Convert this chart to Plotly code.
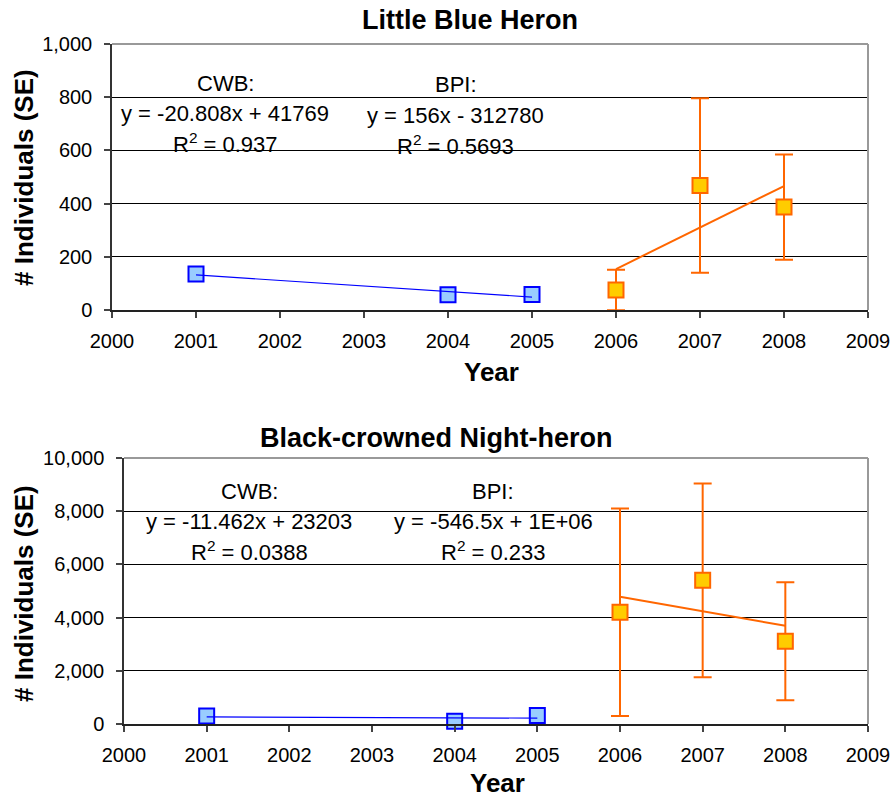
import numpy as np
import plotly.graph_objects as go

# ---------------- data ----------------
years_cwb = [2001, 2004, 2005]
years_bpi = [2006, 2007, 2008]

lbh_cwb = [135, 57, 58]
lbh_bpi = [75, 468, 387]
lbh_bpi_se = [76, 328, 198]

bcnh_cwb = [300, 100, 320]
bcnh_bpi = [4200, 5400, 3110]
bcnh_bpi_se = [3900, 3640, 2220]

x_ticks = list(range(2000, 2010))
lbh_yticks = [0, 200, 400, 600, 800, 1000]
bcnh_yticks = [0, 2000, 4000, 6000, 8000, 10000]

lbh_cwb_text = ["CWB:", "y = -20.808x + 41769", "R<sup>2</sup> = 0.937"]
lbh_bpi_text = ["BPI:", "y = 156x - 312780", "R<sup>2</sup> = 0.5693"]
bcnh_cwb_text = ["CWB:", "y = -11.462x + 23203", "R<sup>2</sup> = 0.0388"]
bcnh_bpi_text = ["BPI:", "y = -546.5x + 1E+06", "R<sup>2</sup> = 0.233"]

titles = ["Little Blue Heron", "Black-crowned Night-heron"]

# ---------------- style ----------------
W, H = 893, 800
FONT = "Liberation Sans, Arial, sans-serif"
BLUE_FILL, BLUE_EDGE = "#99CCFF", "#0000FF"
ORG_FILL, ORG_EDGE = "#FFCC00", "#FF6600"


def px(x):
    return x / W


def py(y):
    return 1 - y / H


def trend(xs, ys):
    k, b = np.polyfit(xs, ys, 1)
    xx = [min(xs), max(xs)]
    return xx, [k * v + b for v in xx]


fig = go.Figure()

panels = [
    dict(cwb=lbh_cwb, bpi=lbh_bpi, se=lbh_bpi_se, xa="x", ya="y"),
    dict(cwb=bcnh_cwb, bpi=bcnh_bpi, se=bcnh_bpi_se, xa="x2", ya="y2"),
]

for p in panels:
    fig.add_trace(go.Scatter(
        x=years_cwb, y=p["cwb"], mode="markers", xaxis=p["xa"], yaxis=p["ya"],
        marker=dict(symbol="square", size=15, color=BLUE_FILL,
                    line=dict(color=BLUE_EDGE, width=2)),
        cliponaxis=False, showlegend=False))
    fig.add_trace(go.Scatter(
        x=years_bpi, y=p["bpi"], mode="markers", xaxis=p["xa"], yaxis=p["ya"],
        marker=dict(symbol="square", size=15, color=ORG_FILL,
                    line=dict(color=ORG_EDGE, width=2)),
        error_y=dict(type="data", array=p["se"], color=ORG_EDGE,
                     thickness=2, width=9),
        showlegend=False))
    tx, ty = trend(years_cwb, p["cwb"])
    fig.add_trace(go.Scatter(x=tx, y=ty, mode="lines", xaxis=p["xa"], yaxis=p["ya"],
                             line=dict(color=BLUE_EDGE, width=1.2), showlegend=False))
    tx, ty = trend(years_bpi, p["bpi"])
    fig.add_trace(go.Scatter(x=tx, y=ty, mode="lines", xaxis=p["xa"], yaxis=p["ya"],
                             line=dict(color=ORG_EDGE, width=2), showlegend=False))

tickfont = dict(family=FONT, size=20, color="#000")

common_x = dict(range=[2000, 2009], tickvals=x_ticks, tickformat="d",
                showgrid=False, zeroline=False, showline=True, automargin=False,
                linecolor="#222", linewidth=2, ticks="outside", ticklen=6,
                tickcolor="#444", tickwidth=1.5, tickfont=tickfont,
                ticklabelstandoff=6)
common_y = dict(tickformat=",", showgrid=True, gridcolor="#000", gridwidth=1,
                zeroline=False, showline=True, linecolor="#333", linewidth=1.5,
                automargin=False,
                ticks="outside", ticklen=6, tickcolor="#444", tickwidth=1.5,
                tickfont=tickfont, ticklabelstandoff=8)

fig.update_layout(
    width=W, height=H, margin=dict(l=0, r=0, t=0, b=0, autoexpand=False),
    paper_bgcolor="white", plot_bgcolor="white",
    font=dict(family=FONT, color="#000"),
    xaxis=dict(domain=[px(112), px(868)], anchor="y", **common_x),
    yaxis=dict(domain=[py(310), py(44)], anchor="x", range=[0, 1000],
               tickvals=lbh_yticks, **common_y),
    xaxis2=dict(domain=[px(124), px(868)], anchor="y2", **common_x),
    yaxis2=dict(domain=[py(724), py(458)], anchor="x2", range=[0, 10000],
                tickvals=bcnh_yticks, **common_y),
)

# grey frame edges (top/right borders)
for xr, yr in [("x domain", "y domain"), ("x2 domain", "y2 domain")]:
    fig.add_shape(type="line", xref=xr, yref=yr, x0=0, x1=1, y0=1, y1=1,
                  line=dict(color="#999", width=2), layer="above")
    fig.add_shape(type="line", xref=xr, yref=yr, x0=1, x1=1, y0=0, y1=1,
                  line=dict(color="#999", width=2), layer="above")

ann = []


def add_text(text, x, y, size=22, bold=False, angle=0):
    t = f"<b>{text}</b>" if bold else text
    ann.append(dict(text=t, x=px(x), y=py(y), xref="paper", yref="paper",
                    xanchor="center", yanchor="middle", showarrow=False,
                    textangle=angle, font=dict(family=FONT, size=size, color="#000")))


# titles
add_text(titles[0], 470, 20, size=27, bold=True)
add_text(titles[1], 436, 438, size=27, bold=True)
# axis titles
add_text("Year", 491, 372, size=26, bold=True)
add_text("Year", 497, 783, size=26, bold=True)
add_text("# Individuals (SE)", 24, 178, size=26, bold=True, angle=-90)
add_text("# Individuals (SE)", 24, 594, size=26, bold=True, angle=-90)

# regression labels
for lines, cx, ys in [
    (lbh_cwb_text, 225, [84, 114, 143]),
    (lbh_bpi_text, 456, [85, 115, 145]),
    (bcnh_cwb_text, 249, [491, 521, 551]),
    (bcnh_bpi_text, 493, [491, 521, 551]),
]:
    for t, yy in zip(lines, ys):
        add_text(t, cx, yy, size=22)

fig.update_layout(annotations=ann)

fig.write_html("out.html")
